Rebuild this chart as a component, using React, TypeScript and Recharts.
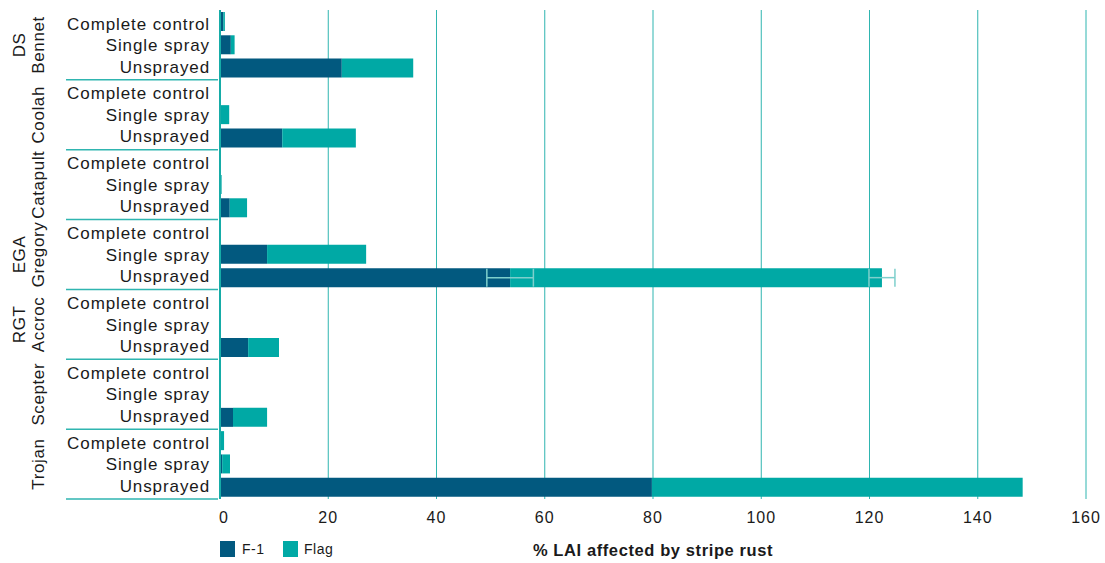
import React from 'react';
import { BarChart, Bar, XAxis, YAxis, CartesianGrid, ErrorBar } from 'recharts';

const varieties = ['DS Bennet', 'Coolah', 'Catapult', 'EGA Gregory', 'RGT Accroc', 'Scepter', 'Trojan'];
const treatments = ['Complete control', 'Single spray', 'Unsprayed'];

// one value per row, varieties top to bottom, treatments in order
const f1Values = [0.6, 2.0, 22.5, 0, 0, 11.5, 0, 0, 1.8, 0, 8.7, 53.6, 0, 0, 5.2, 0, 0, 2.4, 0, 0.4, 79.8];
const flagValues = [0.3, 0.7, 13.2, 0, 1.7, 13.6, 0, 0.3, 3.2, 0, 18.3, 68.7, 0, 0, 5.7, 0, 0, 6.3, 0.75, 1.45, 68.5];
const f1Errors = [null, null, null, null, null, null, null, null, null, null, null, 4.3, null, null, null, null, null, null, null, null, null];
const flagErrors = [null, null, null, null, null, null, null, null, null, null, null, 2.4, null, null, null, null, null, null, null, null, null];

const xTicks = [0, 20, 40, 60, 80, 100, 120, 140, 160];

const F1_COLOR = '#02597f';
const FLAG_COLOR = '#00a9a5';
const LINE_COLOR = '#2fb5b0';
const FONT = "'Liberation Sans', Arial, sans-serif";

const CHART_W = 1105;
const CHART_H = 563;
const X_AXIS_H = 30;
const MARGIN = { top: 10, right: 19, bottom: 64 - X_AXIS_H, left: 66 };
const Y_AXIS_W = 154;
const AXIS_X = MARGIN.left + Y_AXIS_W;
const PLOT_W = CHART_W - AXIS_X - MARGIN.right;
const PLOT_BOTTOM = CHART_H - 64;
const ROW_H = (PLOT_BOTTOM - MARGIN.top) / (varieties.length * treatments.length);
// labels in the original sit a little closer to the middle of each group
const LABEL_SHIFT = [1.7, 0, -1.8];

const rows = varieties.flatMap((variety, vi) =>
  treatments.map((treatment, ti) => {
    const i = vi * treatments.length + ti;
    return {
      id: `${variety}|${treatment}`,
      f1: f1Values[i],
      flag: flagValues[i],
      f1Err: f1Errors[i],
      flagErr: flagErrors[i],
    };
  })
);

const TreatmentTick = ({ y, payload }: any) => {
  const [variety, treatment] = String(payload.value).split('|');
  const ti = treatments.indexOf(treatment);
  const words = variety.split(' ');
  const wordX = words.length > 1 ? [19, 38] : [38];
  return (
    <g>
      <text
        x={AXIS_X - 10}
        y={y + 6.2 + LABEL_SHIFT[ti]}
        textAnchor="end"
        fontFamily={FONT}
        fontSize={17}
        letterSpacing={0.9}
        fill="#1a1a1a"
      >
        {treatment}
      </text>
      {ti === treatments.length - 1 && (
        <line
          x1={MARGIN.left}
          x2={AXIS_X - 2}
          y1={y + ROW_H / 2}
          y2={y + ROW_H / 2}
          stroke={LINE_COLOR}
          strokeWidth={1.5}
        />
      )}
      {ti === 1 &&
        words.map((w, k) => (
          <text
            key={w}
            transform={`translate(${wordX[k]},${y}) rotate(-90)`}
            textAnchor="middle"
            dominantBaseline="central"
            fontFamily={FONT}
            fontSize={17}
            letterSpacing={0.6}
            fill="#1a1a1a"
          >
            {w}
          </text>
        ))}
    </g>
  );
};

const ValueTick = ({ x, payload }: any) => (
  <text
    x={x + (payload.value === 0 ? 4 : 0)}
    y={PLOT_BOTTOM + 24}
    textAnchor="middle"
    fontFamily={FONT}
    fontSize={16}
    letterSpacing={1}
    fill="#1a1a1a"
  >
    {payload.value}
  </text>
);

const AxisTitle = () => (
  <text
    x={AXIS_X + PLOT_W / 2}
    y={556}
    textAnchor="middle"
    fontFamily={FONT}
    fontSize={16.5}
    fontWeight="bold"
    letterSpacing={0.6}
    fill="#1a1a1a"
  >
    % LAI affected by stripe rust
  </text>
);

const legendItems = [
  { name: 'F-1', color: F1_COLOR, left: 220, textLeft: 242 },
  { name: 'Flag', color: FLAG_COLOR, left: 283, textLeft: 304 },
];

export default function App() {
  return (
    <div style={{ position: 'absolute', left: 0, top: 0, width: CHART_W, height: CHART_H, background: '#fff' }}>
      <BarChart
        width={CHART_W}
        height={CHART_H}
        data={rows}
        layout="vertical"
        margin={MARGIN}
        barSize={19}
      >
        <CartesianGrid horizontal={false} stroke={LINE_COLOR} strokeWidth={1} />
        <XAxis
          type="number"
          domain={[0, 160]}
          ticks={xTicks}
          height={X_AXIS_H}
          axisLine={false}
          tickLine={false}
          tick={<ValueTick />}
          interval={0}
          label={<AxisTitle />}
        />
        <YAxis
          type="category"
          dataKey="id"
          width={Y_AXIS_W}
          axisLine={{ stroke: '#16aca7', strokeWidth: 2 }}
          tickLine={false}
          tick={<TreatmentTick />}
          interval={0}
        />
        <Bar dataKey="f1" stackId="lai" fill={F1_COLOR} isAnimationActive={false}>
          <ErrorBar dataKey="f1Err" direction="x" width={9} stroke="#7ecfcc" strokeWidth={1.5} />
        </Bar>
        <Bar dataKey="flag" stackId="lai" fill={FLAG_COLOR} isAnimationActive={false}>
          <ErrorBar dataKey="flagErr" direction="x" width={9} stroke="#7ecfcc" strokeWidth={1.5} />
        </Bar>
      </BarChart>
      {legendItems.map((item) => (
        <React.Fragment key={item.name}>
          <div
            style={{ position: 'absolute', left: item.left, top: 541, width: 15, height: 16, background: item.color }}
          />
          <div
            style={{
              position: 'absolute',
              left: item.textLeft,
              top: 540,
              fontFamily: FONT,
              fontSize: 14,
              lineHeight: '18px',
              letterSpacing: 0.5,
              color: '#1a1a1a',
            }}
          >
            {item.name}
          </div>
        </React.Fragment>
      ))}
    </div>
  );
}
